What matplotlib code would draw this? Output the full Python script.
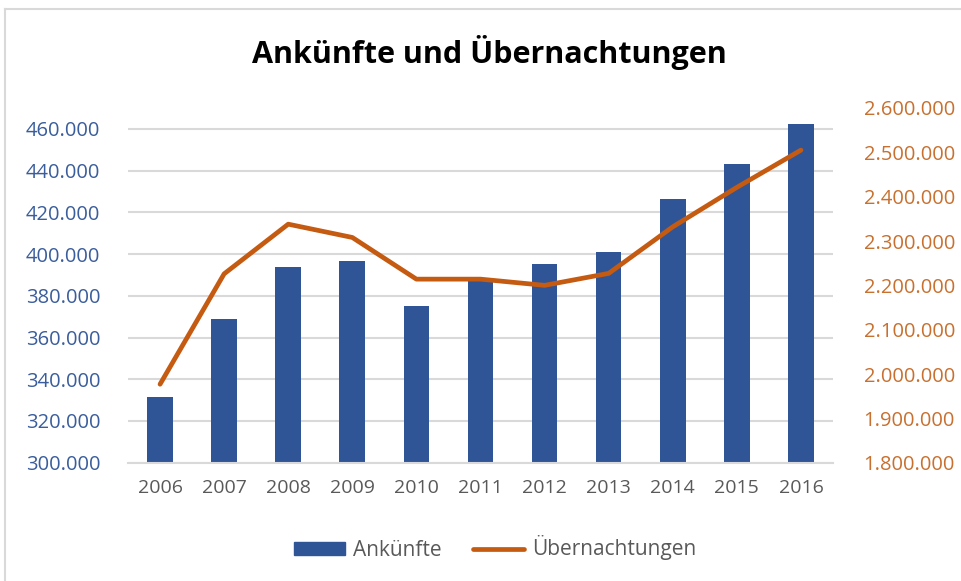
import matplotlib.pyplot as plt
import matplotlib.ticker as ticker
from matplotlib.patches import Patch
from matplotlib.lines import Line2D

years = ["2006", "2007", "2008", "2009", "2010", "2011", "2012", "2013", "2014", "2015", "2016"]
ankuenfte = [331700, 369000, 393800, 396800, 375200, 387000, 395000, 401000, 426400, 443200, 462200]
uebernachtungen = [1977000, 2226000, 2338000, 2308000, 2214000, 2214000, 2200000, 2227000, 2332000, 2421000, 2505000]

blue = "#2F5597"
orange = "#C55A11"
grid = "#D9D9D9"

plt.rcParams['font.family'] = ['Open Sans', 'DejaVu Sans']


def dots(v, pos):
    return f"{v:,.0f}".replace(",", ".")


fig = plt.figure(figsize=(9.62, 5.81), dpi=100)
ax = fig.add_axes([128 / 962, 1 - 462.7 / 581, 705 / 962, 354.7 / 581])

x = range(len(years))
ax.bar(x, ankuenfte, width=0.4, color=blue, zorder=2)
ax.set_xlim(-0.5, len(years) - 0.5)
ax.set_ylim(300000, 470000)
ax.set_yticks(range(300000, 460001, 20000))
ax.yaxis.set_major_formatter(ticker.FuncFormatter(dots))
ax.set_xticks(list(x))
ax.set_xticklabels(years)
ax.grid(axis='y', color=grid, linewidth=1.5, zorder=0)
ax.set_axisbelow(True)
for s in ax.spines.values():
    s.set_visible(False)
ax.spines['bottom'].set_visible(True)
ax.spines['bottom'].set_color(grid)
ax.spines['bottom'].set_linewidth(1.5)
ax.tick_params(axis='y', length=0, pad=20, labelsize=14.5, labelcolor="#3A5D9C")
ax.tick_params(axis='x', length=0, pad=12, labelsize=14, labelcolor="#595959")

ax2 = ax.twinx()
ax2.plot(x, uebernachtungen, color=orange, linewidth=3.4, solid_capstyle='round', solid_joinstyle='round')
ax2.set_ylim(1800000, 2600000)
ax2.set_yticks(range(1800000, 2600001, 100000))
ax2.yaxis.set_major_formatter(ticker.FuncFormatter(dots))
for s in ax2.spines.values():
    s.set_visible(False)
ax2.tick_params(axis='y', length=0, pad=22, labelsize=14.5, labelcolor="#C8702F")

fig.text(489 / 962, 1 - 52 / 581, "Ankünfte und Übernachtungen", ha='center', va='center',
         fontsize=22, fontweight='bold', color="black")

handles = [Patch(facecolor=blue, edgecolor=blue),
           Line2D([0], [0], color=orange, linewidth=3.4, solid_capstyle='round')]
fig.legend(handles, ["Ankünfte", "Übernachtungen"], loc='center', ncol=2,
           bbox_to_anchor=(495 / 962, 1 - 548 / 581), frameon=False, fontsize=15,
           labelcolor="#595959", handlelength=2.45, handleheight=0.6,
           handletextpad=0.38, columnspacing=1.5)

# chart frame (top and left edges visible in the screenshot)
fig.add_artist(Line2D([5 / 962, 5 / 962], [0, 1 - 9 / 581], color=grid, linewidth=1.5))
fig.add_artist(Line2D([5 / 962, 1], [1 - 9 / 581, 1 - 9 / 581], color=grid, linewidth=1.5))

fig.savefig("out.png", dpi=100)
